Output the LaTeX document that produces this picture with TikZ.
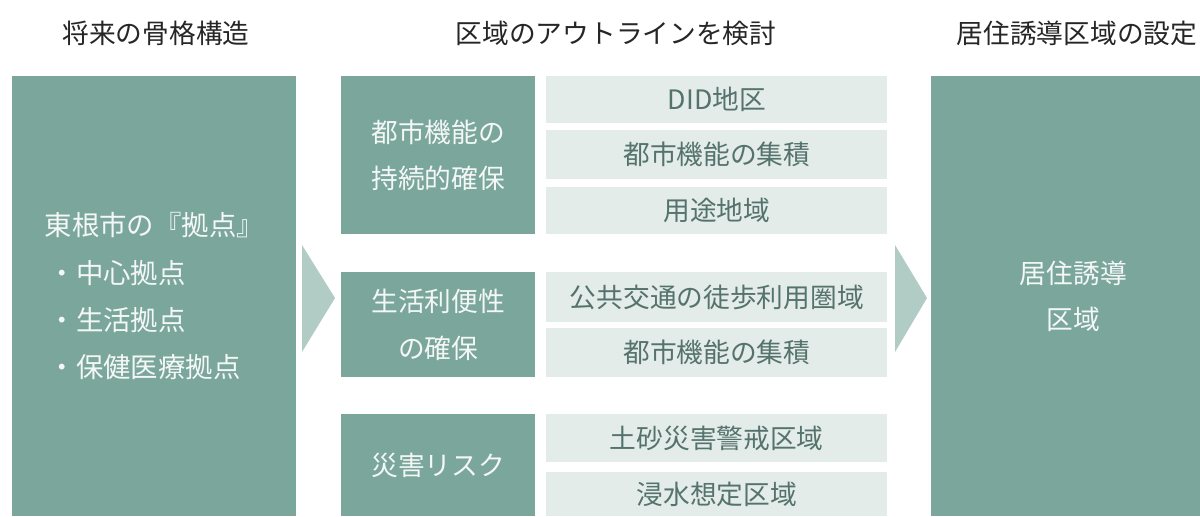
\documentclass[tikz,border=0pt]{standalone}
\usepackage{fontspec}
\setmainfont{Noto Sans CJK JP}
\usetikzlibrary{positioning}
\definecolor{hgteal}{HTML}{7BA69C}
\definecolor{hgpale}{HTML}{E3ECE9}
\definecolor{hgarrow}{HTML}{B1CCC5}
\definecolor{hgink}{HTML}{55736C}
\definecolor{hglight}{HTML}{F3F7F6}
\definecolor{hghead}{HTML}{262626}
\tikzset{
  headtxt/.style={font=\fontsize{19}{23}\selectfont, text=hghead, inner sep=0pt},
  darkbox/.style={fill=hgteal, text=hglight, inner sep=0pt, align=center, anchor=north west,
    font=\fontsize{19}{33}\selectfont},
  palebox/.style={fill=hgpale, text=hgink, inner sep=0pt, anchor=north west,
    minimum width=8.525cm, font=\fontsize{19}{23}\selectfont},
  flowtri/.style={fill=hgarrow}
}

\begin{document}
\begin{tikzpicture}[x=0.025cm, y=-0.025cm]
    \clip (0,0) rectangle (1200,516);
    % headings
    \node[headtxt] (headL) at (156,33) {将来の骨格構造};
    \node[headtxt] (headM) at (616,33) {区域のアウトラインを検討};
    \node[headtxt] (headR) at (1077,33) {居住誘導区域の設定};
    % left column
    \node[darkbox, align=left, minimum width=7.1cm, minimum height=11cm,
      font=\fontsize{19.5}{33.6}\selectfont] (kyoten) at (12,76)
      {東根市の『拠点』\\\hspace{0.1cm}・中心拠点\\\hspace{0.1cm}・生活拠点\\\hspace{0.1cm}・保健医療拠点};
    % middle column
    \node[darkbox, minimum width=4.85cm, minimum height=3.95cm] (toshi) at (341,76) {都市機能の\\持続的確保};
    \node[darkbox, minimum width=4.85cm, minimum height=2.625cm] (seikatsu) at (341,272) {生活利便性\\の確保};
    \node[darkbox, minimum width=4.85cm, minimum height=2.55cm] (saigai) at (341,414) {災害リスク};
    \node[palebox, minimum height=1.175cm] (did) at (546,76) {DID地区};
    \node[palebox, minimum height=1.225cm] (shuseki) at (546,130) {都市機能の集積};
    \node[palebox, minimum height=1.175cm] (youto) at (546,187) {用途地域};
    \node[palebox, minimum height=1.25cm] (toho) at (546,272) {公共交通の徒歩利用圏域};
    \node[palebox, minimum height=1.225cm] (shusekiB) at (546,328) {都市機能の集積};
    \node[palebox, minimum height=1.2cm] (dosha) at (546,414) {土砂災害警戒区域};
    \node[palebox, minimum height=1.1cm] (shinsui) at (546,472) {浸水想定区域};
    % right column
    \node[darkbox, minimum width=7.1cm, minimum height=11cm] (yudo) at (931,76) {居住誘導\\区域};
    % flow marks
    \foreach \xa/\xb in {302/335, 895/927}{\fill[flowtri] (\xa,245) -- (\xb,298) -- (\xa,352) -- cycle;}
\end{tikzpicture}
\end{document}
